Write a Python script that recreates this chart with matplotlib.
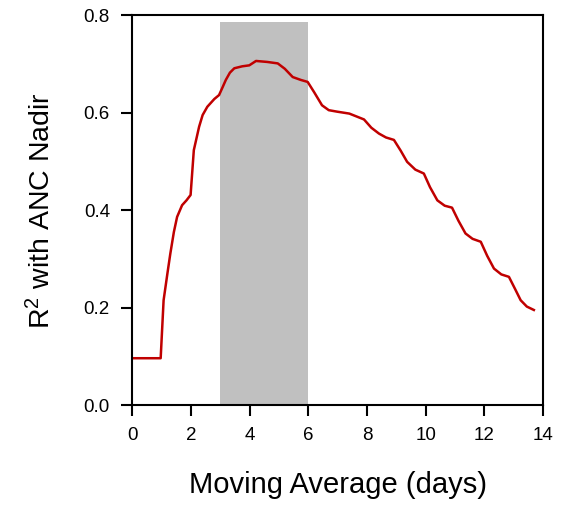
import matplotlib
matplotlib.use("Agg")
import matplotlib.pyplot as plt

plt.rcParams['font.family'] = ['Liberation Sans', 'DejaVu Sans']
plt.rcParams['mathtext.fontset'] = 'custom'
plt.rcParams['mathtext.rm'] = 'Liberation Sans'
plt.rcParams['mathtext.it'] = 'Liberation Sans:italic'

# moving average window (days) vs R^2
days = [0.0, 0.5, 0.97, 1.07, 1.2, 1.3, 1.42, 1.53, 1.7, 1.85, 1.99, 2.1, 2.28,
        2.4, 2.56, 2.8, 2.96, 3.08, 3.19, 3.33, 3.48, 3.75, 3.99, 4.22, 4.6,
        4.96, 5.2, 5.47, 5.75, 5.98, 6.2, 6.47, 6.7, 6.98, 7.4, 7.9, 8.15,
        8.41, 8.65, 8.92, 9.15, 9.37, 9.65, 9.94, 10.15, 10.4, 10.65, 10.9,
        11.12, 11.36, 11.6, 11.88, 12.1, 12.33, 12.58, 12.84, 13.05, 13.24,
        13.45, 13.69]
r2 = [0.096, 0.096, 0.096, 0.215, 0.27, 0.311, 0.355, 0.386, 0.41, 0.42, 0.431,
      0.523, 0.571, 0.595, 0.612, 0.628, 0.636, 0.652, 0.667, 0.682, 0.691,
      0.695, 0.697, 0.706, 0.704, 0.701, 0.69, 0.673, 0.667, 0.663, 0.642,
      0.615, 0.605, 0.602, 0.598, 0.586, 0.569, 0.557, 0.549, 0.544, 0.522,
      0.499, 0.483, 0.475, 0.447, 0.42, 0.409, 0.405, 0.378, 0.352, 0.341,
      0.335, 0.306, 0.28, 0.268, 0.263, 0.238, 0.215, 0.202, 0.195]

best_window = (3, 6)
best_top = 0.785

fig = plt.figure(figsize=(5.65, 5.05), dpi=100)
ax = fig.add_axes([0.234, 0.198, 0.727, 0.772])

ax.fill_between(best_window, 0, best_top, color='#c0c0c0', lw=0, zorder=1)
ax.plot(days, r2, color='#c00000', lw=1.8, zorder=2,
        solid_joinstyle='round')

ax.set_xlim(0, 14)
ax.set_ylim(0, 0.8)
ax.set_xticks(range(0, 15, 2))
ax.set_yticks([0.0, 0.2, 0.4, 0.6, 0.8])
ax.set_yticklabels(['0.0', '0.2', '0.4', '0.6', '0.8'])

for s in ax.spines.values():
    s.set_linewidth(1.5)
ax.tick_params(direction='out', length=8, width=1.5, labelsize=13.5, pad=8)

ax.set_xlabel('Moving Average (days)', fontsize=21, labelpad=19)
ax.set_ylabel(r'R$^2$ with ANC Nadir', fontsize=20.5, labelpad=20)

fig.savefig('out.png', dpi=100)
